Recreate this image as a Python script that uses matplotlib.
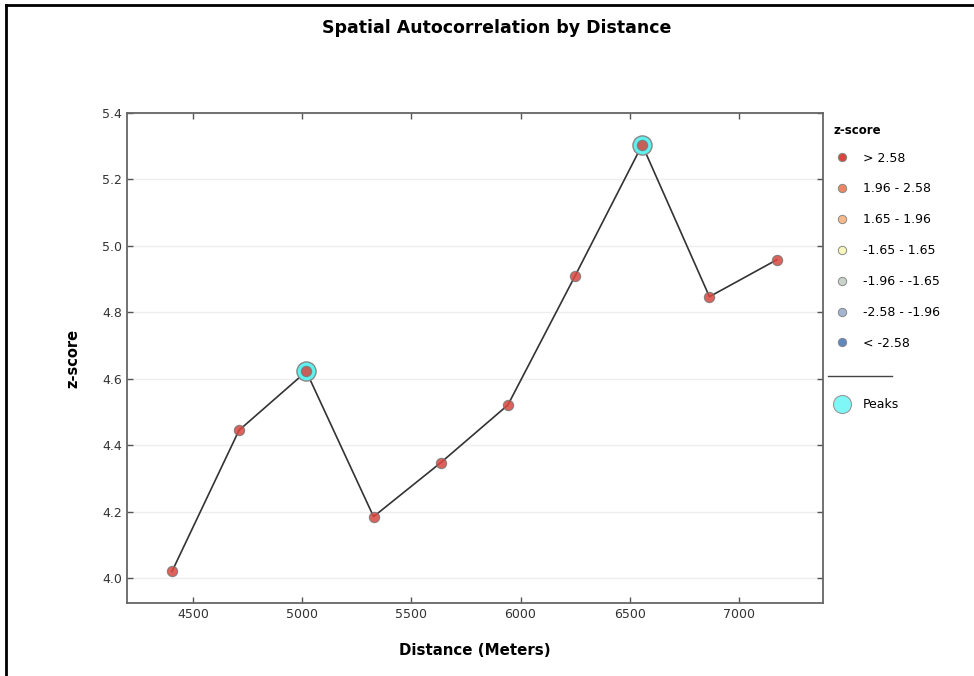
import matplotlib
matplotlib.use("Agg")
import matplotlib.pyplot as plt
from matplotlib.lines import Line2D

# data
distance = [4404, 4711, 5019, 5327, 5634, 5942, 6250, 6557, 6865, 7173]
zscore = [4.02, 4.445, 4.622, 4.185, 4.347, 4.521, 4.91, 5.304, 4.847, 4.958]
peak_idx = [2, 7]

bin_labels = ["> 2.58", "1.96 - 2.58", "1.65 - 1.96", "-1.65 - 1.65",
              "-1.96 - -1.65", "-2.58 - -1.96", "< -2.58"]
bin_colors = ["#d8473f", "#ec8566", "#f8b98a", "#f7f7bd",
              "#c9d3c9", "#a3b5cf", "#5f86bd"]

x_ticks = [4500, 5000, 5500, 6000, 6500, 7000]
y_ticks = [4.0, 4.2, 4.4, 4.6, 4.8, 5.0, 5.2, 5.4]

fig = plt.figure(figsize=(9.74, 6.76), dpi=100)
ax = fig.add_axes([127 / 974, 1 - 603 / 676, (823 - 127) / 974, (603 - 113) / 676])

# grid
for y in y_ticks:
    ax.axhline(y, color="#eeeeee", lw=1.0, zorder=0)

ax.plot(distance, zscore, color="#333333", lw=1.2, zorder=2)

# peaks behind the points
ax.scatter([distance[i] for i in peak_idx], [zscore[i] for i in peak_idx],
           s=190, facecolor="#5ff0f0", edgecolor="#888888", lw=1.0, zorder=3)
ax.scatter(distance, zscore, s=55, facecolor=bin_colors[0], edgecolor="#777777",
           lw=0.8, alpha=0.85, zorder=4)

ax.set_xlim(4198, 7385)
ax.set_ylim(3.925, 5.4)
ax.set_xticks(x_ticks)
ax.set_yticks(y_ticks)
ax.set_yticklabels([f"{v:.1f}" for v in y_ticks])
ax.tick_params(direction="in", length=4, width=1, color="#555555",
               top=True, right=True, labelsize=9, labelcolor="#333333")
for s in ax.spines.values():
    s.set_color("#666666")
    s.set_linewidth(1.3)

ax.set_xlabel("Distance (Meters)", fontsize=10.8, fontweight="bold", labelpad=16)
ax.set_ylabel("z-score", fontsize=10.5, fontweight="bold", labelpad=16)
fig.text(497 / 974, 1 - 28 / 676, "Spatial Autocorrelation by Distance",
         ha="center", va="center", fontsize=12.5, fontweight="bold")

# legend for z-score bins
handles = [Line2D([], [], marker="o", ls="", markersize=6, markerfacecolor=c,
                  markeredgecolor="#888888", markeredgewidth=0.7)
           for c in bin_colors]
leg = fig.legend(handles, bin_labels, title="z-score", loc="upper left",
                 bbox_to_anchor=(829 / 974, 1 - 119 / 676), frameon=False,
                 fontsize=9, labelspacing=1.43, handletextpad=1.1,
                 handlelength=1.2, borderaxespad=0)
leg.get_title().set_fontweight("bold")
leg.get_title().set_fontsize(8.5)
leg._legend_box.align = "left"
leg._legend_box.sep = 10.5

# separator line and peaks entry
fig.add_artist(Line2D([828 / 974, 892 / 974], [1 - 376 / 676, 1 - 376 / 676],
                      color="#444444", lw=1.0))
peak_handle = Line2D([], [], marker="o", ls="", markersize=13,
                     markerfacecolor="#7ff7f7", markeredgecolor="#999999",
                     markeredgewidth=0.8)
fig.legend([peak_handle], ["Peaks"], loc="upper left",
           bbox_to_anchor=(829 / 974, 1 - 393 / 676), frameon=False,
           fontsize=9, handletextpad=1.1, handlelength=1.2, borderaxespad=0)

# frame edges of the original screenshot
fig.add_artist(Line2D([6 / 974, 6 / 974], [0, 1 - 5 / 676], color="black", lw=2))
fig.add_artist(Line2D([6 / 974, 1], [1 - 5 / 676, 1 - 5 / 676], color="black", lw=2))

fig.savefig("out.png", dpi=100)
